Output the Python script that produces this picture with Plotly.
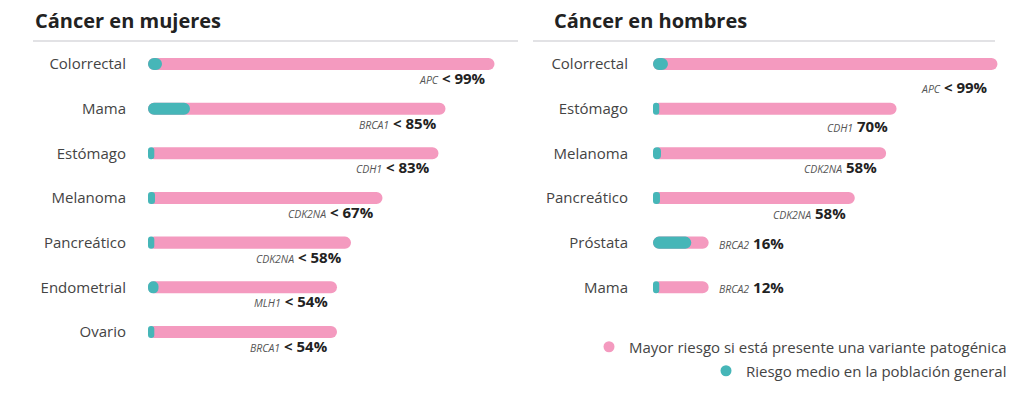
import plotly.graph_objects as go

# ---------------- data ----------------
mujeres_cat = ["Colorrectal", "Mama", "Estómago", "Melanoma", "Pancreático", "Endometrial", "Ovario"]
mujeres_total = [99, 85, 83, 67, 58, 54, 54]
mujeres_general = [4, 12, 1.8, 2, 1.8, 3, 1.8]
mujeres_gen = ["APC", "BRCA1", "CDH1", "CDK2NA", "CDK2NA", "MLH1", "BRCA1"]
mujeres_txt = ["&lt; 99%", "&lt; 85%", "&lt; 83%", "&lt; 67%", "&lt; 58%", "&lt; 54%", "&lt; 54%"]

hombres_cat = ["Colorrectal", "Estómago", "Melanoma", "Pancreático", "Próstata", "Mama"]
hombres_total = [99, 70, 67, 58, 16, 16]
hombres_general = [4.3, 1.8, 2.3, 2, 11, 1.8]
hombres_gen = ["APC", "CDH1", "CDK2NA", "CDK2NA", "BRCA2", "BRCA2"]
hombres_txt = ["&lt; 99%", "70%", "58%", "58%", "16%", "12%"]

# ---------------- style ----------------
W, H = 1024, 393
PINK = "#F49ABF"
TEAL = "#46B6B8"
FONT = "Open Sans"
BAR_W = 0.27
# label placement per row: (mode, vertical shift px)
mujeres_pos = [("below", -14)] * 7
hombres_pos = [("below", -23), ("below", -17), ("below", -14), ("below", -15), ("right", 0), ("right", 0)]

fig = go.Figure()


def add_panel(cats, totals, generals, xa, ya):
    # full-length pink bar (rounded at the right end)
    fig.add_trace(go.Bar(
        y=cats, x=totals, base=0,
        orientation="h", marker=dict(color=PINK, line=dict(width=0)),
        width=BAR_W, xaxis=xa, yaxis=ya, showlegend=False, hoverinfo="skip"))
    # teal general-population segment, drawn from its value back to 0 (rounded at the left end)
    fig.add_trace(go.Bar(
        y=cats, x=[-g for g in generals], base=generals,
        orientation="h", marker=dict(color=TEAL, line=dict(width=0)),
        width=BAR_W, xaxis=xa, yaxis=ya, showlegend=False, hoverinfo="skip"))


add_panel(mujeres_cat, mujeres_total, mujeres_general, "x", "y")
add_panel(hombres_cat, hombres_total, hombres_general, "x2", "y2")

# legend entries
fig.add_trace(go.Scatter(x=[None], y=[None], mode="markers", name="Mayor riesgo si está presente una variante patogénica",
                         marker=dict(color=PINK, size=11), legend="legend"))
fig.add_trace(go.Scatter(x=[None], y=[None], mode="markers", name="Riesgo medio en la población general",
                         marker=dict(color=TEAL, size=11), legend="legend2"))


def label(gene, txt):
    return (f"<i><span style='font-size:10.5px;color:#555'>{gene}</span></i> "
            f"<b>{txt}</b>")


annotations = []
for cats, totals, genes, txts, pos, xr, yr in [
        (mujeres_cat, mujeres_total, mujeres_gen, mujeres_txt, mujeres_pos, "x", "y"),
        (hombres_cat, hombres_total, hombres_gen, hombres_txt, hombres_pos, "x2", "y2")]:
    for c, t, g, s, (mode, ys) in zip(cats, totals, genes, txts, pos):
        if mode == "below":
            annotations.append(dict(x=t, y=c, xref=xr, yref=yr, text=label(g, s), showarrow=False,
                                    xanchor="right", yanchor="middle", xshift=-7, yshift=ys,
                                    font=dict(family=FONT, size=15, color="#222")))
        else:
            annotations.append(dict(x=t, y=c, xref=xr, yref=yr, text=label(g, s), showarrow=False,
                                    xanchor="left", yanchor="middle", xshift=8, yshift=ys,
                                    font=dict(family=FONT, size=15, color="#222")))

annotations.append(dict(x=33 / W, y=1 - 21 / H, xref="paper", yref="paper", text="<b>Cáncer en mujeres</b>",
                        showarrow=False, xanchor="left", yanchor="middle",
                        font=dict(family=FONT, size=20, color="#222")))
annotations.append(dict(x=552 / W, y=1 - 21 / H, xref="paper", yref="paper", text="<b>Cáncer en hombres</b>",
                        showarrow=False, xanchor="left", yanchor="middle",
                        font=dict(family=FONT, size=20, color="#222")))

shapes = [
    dict(type="line", xref="paper", yref="paper", x0=33 / W, x1=518 / W, y0=1 - 41 / H, y1=1 - 41 / H,
         line=dict(color="#D9D9DD", width=1.5)),
    dict(type="line", xref="paper", yref="paper", x0=533 / W, x1=995 / W, y0=1 - 41 / H, y1=1 - 41 / H,
         line=dict(color="#D9D9DD", width=1.5)),
]

ydom = [1 - 354.3 / H, 1 - 41.67 / H]
yax = dict(type="category", range=[6.5, -0.5], domain=ydom, showgrid=False, zeroline=False,
           showline=False, ticks="", tickfont=dict(family=FONT, size=15, color="#444"), fixedrange=True)
xax = dict(showgrid=False, zeroline=False, showline=False, showticklabels=False, ticks="", fixedrange=True)

fig.update_layout(
    width=W, height=H, margin=dict(l=0, r=0, t=0, b=0),
    paper_bgcolor="white", plot_bgcolor="white",
    barmode="overlay", barcornerradius=6,
    font=dict(family=FONT, color="#333"),
    xaxis=dict(xax, domain=[148 / W, 505 / W], range=[0, 102]),
    xaxis2=dict(xax, domain=[653 / W, 1010 / W], range=[0, 102.6]),
    yaxis=dict(yax, anchor="x", categoryarray=mujeres_cat, ticklabelstandoff=21),
    yaxis2=dict(yax, anchor="x2", categoryarray=hombres_cat, ticklabelstandoff=24),
    legend=dict(x=1012 / W, xanchor="right", y=1 - 347 / H, yanchor="middle",
                font=dict(family=FONT, size=15, color="#444"), bgcolor="rgba(0,0,0,0)", borderwidth=0),
    legend2=dict(x=1012 / W, xanchor="right", y=1 - 371 / H, yanchor="middle",
                 font=dict(family=FONT, size=15, color="#444"), bgcolor="rgba(0,0,0,0)", borderwidth=0),
    annotations=annotations, shapes=shapes,
)

fig.write_html("out.html", config={"displayModeBar": False},
               post_script="document.body.style.margin='0px';")
